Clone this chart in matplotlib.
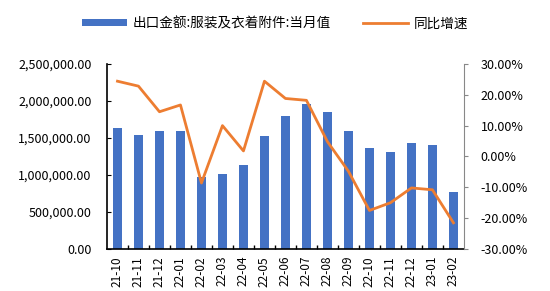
import matplotlib
matplotlib.use("Agg")
import matplotlib.pyplot as plt
from matplotlib.ticker import FuncFormatter, MultipleLocator
from matplotlib.lines import Line2D
from matplotlib.patches import Patch

plt.rcParams['font.family'] = ['Noto Sans CJK SC', 'DejaVu Sans']

months = ["21-10", "21-11", "21-12", "22-01", "22-02", "22-03", "22-04", "22-05",
          "22-06", "22-07", "22-08", "22-09", "22-10", "22-11", "22-12", "23-01", "23-02"]
export_value = [1638000, 1544000, 1592000, 1592000, 973000, 1019000, 1131000, 1525000,
                1790000, 1961000, 1844000, 1592000, 1363000, 1315000, 1427000, 1409000, 767000]
yoy_growth = [24.4, 22.8, 14.5, 16.7, -8.6, 10.0, 1.8, 24.4,
              18.8, 18.2, 4.8, -4.8, -17.5, -15.0, -10.2, -10.8, -21.5]

bar_name = "出口金额:服装及衣着附件:当月值"
line_name = "同比增速"
blue = "#4472C4"
orange = "#ED7D31"

fig = plt.figure(figsize=(5.5, 2.91), dpi=100)
ax = fig.add_axes([0.1945, 0.1443, 0.649, 0.636])
x = list(range(len(months)))
ax.bar(x, export_value, width=0.43, color=blue, zorder=2)
ax.set_xlim(-0.5, len(months) - 0.5)
ax.set_ylim(0, 2500000)
ax.yaxis.set_major_locator(MultipleLocator(500000))
ax.yaxis.set_major_formatter(FuncFormatter(lambda v, p: f"{v:,.2f}"))
ax.set_xticks(x)
ax.set_xticklabels(months, rotation=90)
ax.set_xticks([i + 0.5 for i in x[:-1]], minor=True)
ax.tick_params(axis='x', which='major', length=0, pad=5, labelsize=8.5)
ax.tick_params(axis='x', which='minor', length=3, direction='in', width=1)
ax.tick_params(axis='y', length=3, direction='in', labelsize=9, pad=11)
for s in ['top', 'right']:
    ax.spines[s].set_visible(False)
ax.spines['left'].set_linewidth(1.2)
ax.spines['bottom'].set_linewidth(1.2)

ax2 = ax.twinx()
ax2.plot(x, yoy_growth, color=orange, linewidth=2, zorder=3)
ax2.set_ylim(-30, 30)
ax2.yaxis.set_major_locator(MultipleLocator(10))
ax2.yaxis.set_major_formatter(FuncFormatter(lambda v, p: f"{v:.2f}%"))
ax2.tick_params(axis='y', length=3, direction='out', labelsize=9, color="#888888", pad=9)
for s in ['top', 'left', 'bottom']:
    ax2.spines[s].set_visible(False)
ax2.spines['right'].set_color("#888888")

handles = [Patch(facecolor=blue, edgecolor='none'),
           Line2D([0], [0], color=orange, linewidth=2)]
fig.legend(handles, [bar_name, line_name], loc='center', bbox_to_anchor=(0.5, 0.92),
           ncol=2, frameon=False, fontsize=9.8, handlelength=3.3, handleheight=0.42,
           columnspacing=2.4, handletextpad=0.4)

fig.savefig("out.png", dpi=100)
